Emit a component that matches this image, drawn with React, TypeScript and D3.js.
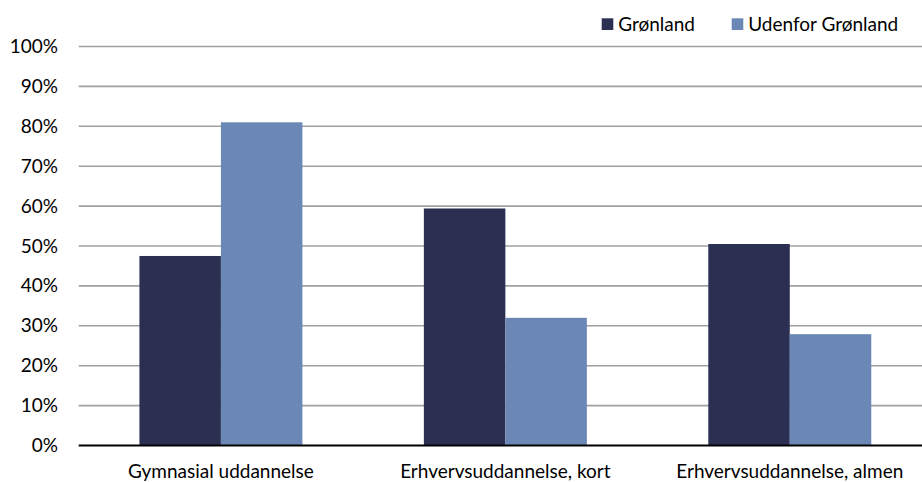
import React, { useEffect, useRef } from "react";
import * as d3 from "d3";

const categories = ["Gymnasial uddannelse", "Erhvervsuddannelse, kort", "Erhvervsuddannelse, almen"];
const seriesNames = ["Grønland", "Udenfor Grønland"];
const groenland = [47.5, 59.4, 50.5];
const udenfor = [81.0, 32.0, 27.9];
const yTicks = [0, 10, 20, 30, 40, 50, 60, 70, 80, 90, 100];
const colors = ["#2b3053", "#6b87b6"];

const W = 922;
const H = 482;
const FONT = "Lato, 'Open Sans', sans-serif";
const FS = 19;

function App() {
  const svgRef = useRef<SVGSVGElement>(null);

  useEffect(() => {
    const svg = d3.select(svgRef.current);
    svg.selectAll("*").remove();

    const left = 78.7;
    const right = 932;
    const x = d3.scaleBand<string>().domain(categories).range([left, right]).paddingInner(0.427).paddingOuter(0.2135);
    const xs = d3.scaleBand<string>().domain(seriesNames).range([0, x.bandwidth()]);
    const y = d3.scaleLinear().domain([0, 100]).range([445.5, 46.5]);

    // gridlines
    svg
      .append("g")
      .selectAll("line")
      .data(yTicks.filter((t) => t > 0))
      .join("line")
      .attr("x1", left)
      .attr("x2", right)
      .attr("y1", (d) => y(d))
      .attr("y2", (d) => y(d))
      .attr("stroke", "#a0a0a0")
      .attr("stroke-width", 1.6);

    // y labels
    svg
      .append("g")
      .selectAll("text")
      .data(yTicks)
      .join("text")
      .attr("x", 58)
      .attr("y", (d) => y(d) + 6.5)
      .attr("text-anchor", "end")
      .attr("font-family", FONT)
      .attr("font-size", FS)
      .attr("fill", "#000")
      .text((d) => `${d}%`);

    const rows = categories.map((c, i) => ({ c, vals: [groenland[i], udenfor[i]] }));

    svg
      .append("g")
      .selectAll("g")
      .data(rows)
      .join("g")
      .attr("transform", (d) => `translate(${x(d.c)},0)`)
      .selectAll("rect")
      .data((d) => d.vals.map((v, j) => ({ v, s: seriesNames[j], j })))
      .join("rect")
      .attr("x", (d) => xs(d.s)!)
      .attr("width", xs.bandwidth())
      .attr("y", (d) => y(d.v))
      .attr("height", (d) => y(0) - y(d.v))
      .attr("fill", (d) => colors[d.j]);

    // zero axis
    svg
      .append("line")
      .attr("x1", left)
      .attr("x2", right)
      .attr("y1", y(0))
      .attr("y2", y(0))
      .attr("stroke", "#000")
      .attr("stroke-width", 2);

    // x labels
    svg
      .append("g")
      .selectAll("text")
      .data(categories)
      .join("text")
      .attr("x", (d) => x(d)! + x.bandwidth() / 2)
      .attr("y", 477.5)
      .attr("text-anchor", "middle")
      .attr("font-family", FONT)
      .attr("font-size", FS)
      .attr("fill", "#000")
      .text((d) => d);

    // legend
    const legendX = [601.7, 731.7];
    const lg = svg
      .append("g")
      .selectAll("g")
      .data(seriesNames)
      .join("g")
      .attr("transform", (_, i) => `translate(${legendX[i]},18.3)`);
    lg.append("rect").attr("width", 11.6).attr("height", 11.7).attr("fill", (_, i) => colors[i]);
    lg.append("text")
      .attr("x", 16.5)
      .attr("y", 12.7)
      .attr("font-family", FONT)
      .attr("font-size", FS)
      .attr("fill", "#000")
      .text((d) => d);
  }, []);

  return (
    <svg
      ref={svgRef}
      width={W}
      height={H}
      style={{ position: "absolute", left: 0, top: 0, background: "#fff" }}
    />
  );
}

export default App;
